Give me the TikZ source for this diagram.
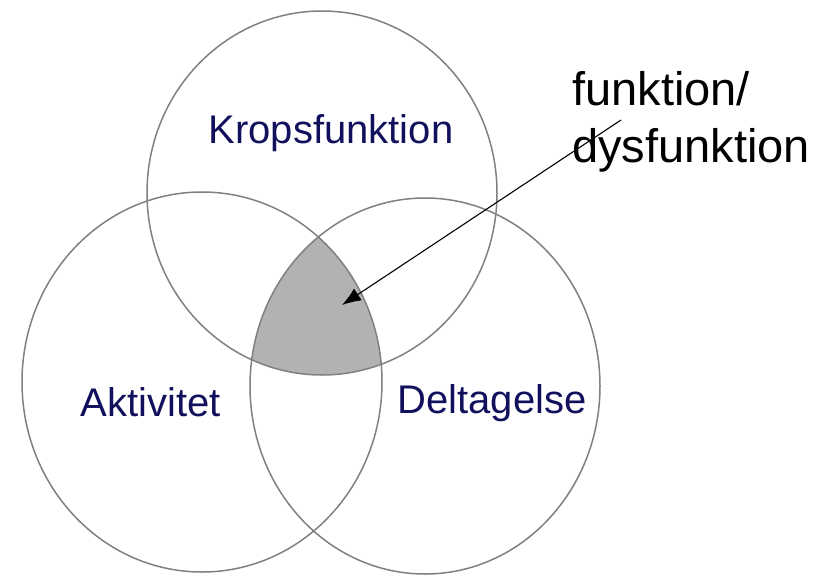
\documentclass[tikz,border=0pt]{standalone}
\usepackage{fontspec}
\setmainfont{Liberation Sans}
\usetikzlibrary{arrows.meta}
\definecolor{circlegray}{RGB}{128,128,128}
\definecolor{overlapgray}{RGB}{178,178,178}
\definecolor{labelnavy}{RGB}{16,16,92}

\begin{document}
\begin{tikzpicture}[x=1pt, y=1pt, line join=bevel,
                domaincircle/.style={draw=circlegray, line width=1.5pt},
                domainlabel/.style={anchor=base, inner sep=0pt, text=labelnavy, font=\fontsize{40}{48}\selectfont},
                notelabel/.style={anchor=base west, inner sep=0pt, font=\fontsize{47}{57}\selectfont}]
            \useasboundingbox (0,0) rectangle (830,-576);
            % Overlap of all three domains
            \begin{scope}
                \clip (322,-193) ellipse [x radius=175, y radius=182];
                \clip (202,-382) ellipse [x radius=180, y radius=190];
                \fill[overlapgray] (425,-386) ellipse [x radius=175, y radius=188];
            \end{scope}
            % Domains
        \foreach \cx/\cy/\rx/\ry in {
            322/193/175/182,
            202/382/180/190,
            425/386/175/188} {
            \draw[domaincircle] (\cx,-\cy) ellipse [x radius=\rx, y radius=\ry];
        }
        % Domain labels
        \node[domainlabel] (kropsfunktion) at (331,-143) {Kropsfunktion};
        \node[domainlabel] (aktivitet) at (151,-416) {Aktivitet};
        \node[domainlabel] (deltagelse) at (492,-413) {Deltagelse};

        % Note with arrow
        \node[notelabel] (funktion) at (572,-105) {funktion/};
        \node[notelabel] (dysfunktion) at (572,-162) {dysfunktion};
        \coordinate (notetail) at (621,-120);
        \coordinate (overlap) at (342,-305);
        \draw[-{Latex[length=19pt, width=14pt]}, line width=1.1pt] (notetail) -- (overlap);
            \end{tikzpicture}
\end{document}
